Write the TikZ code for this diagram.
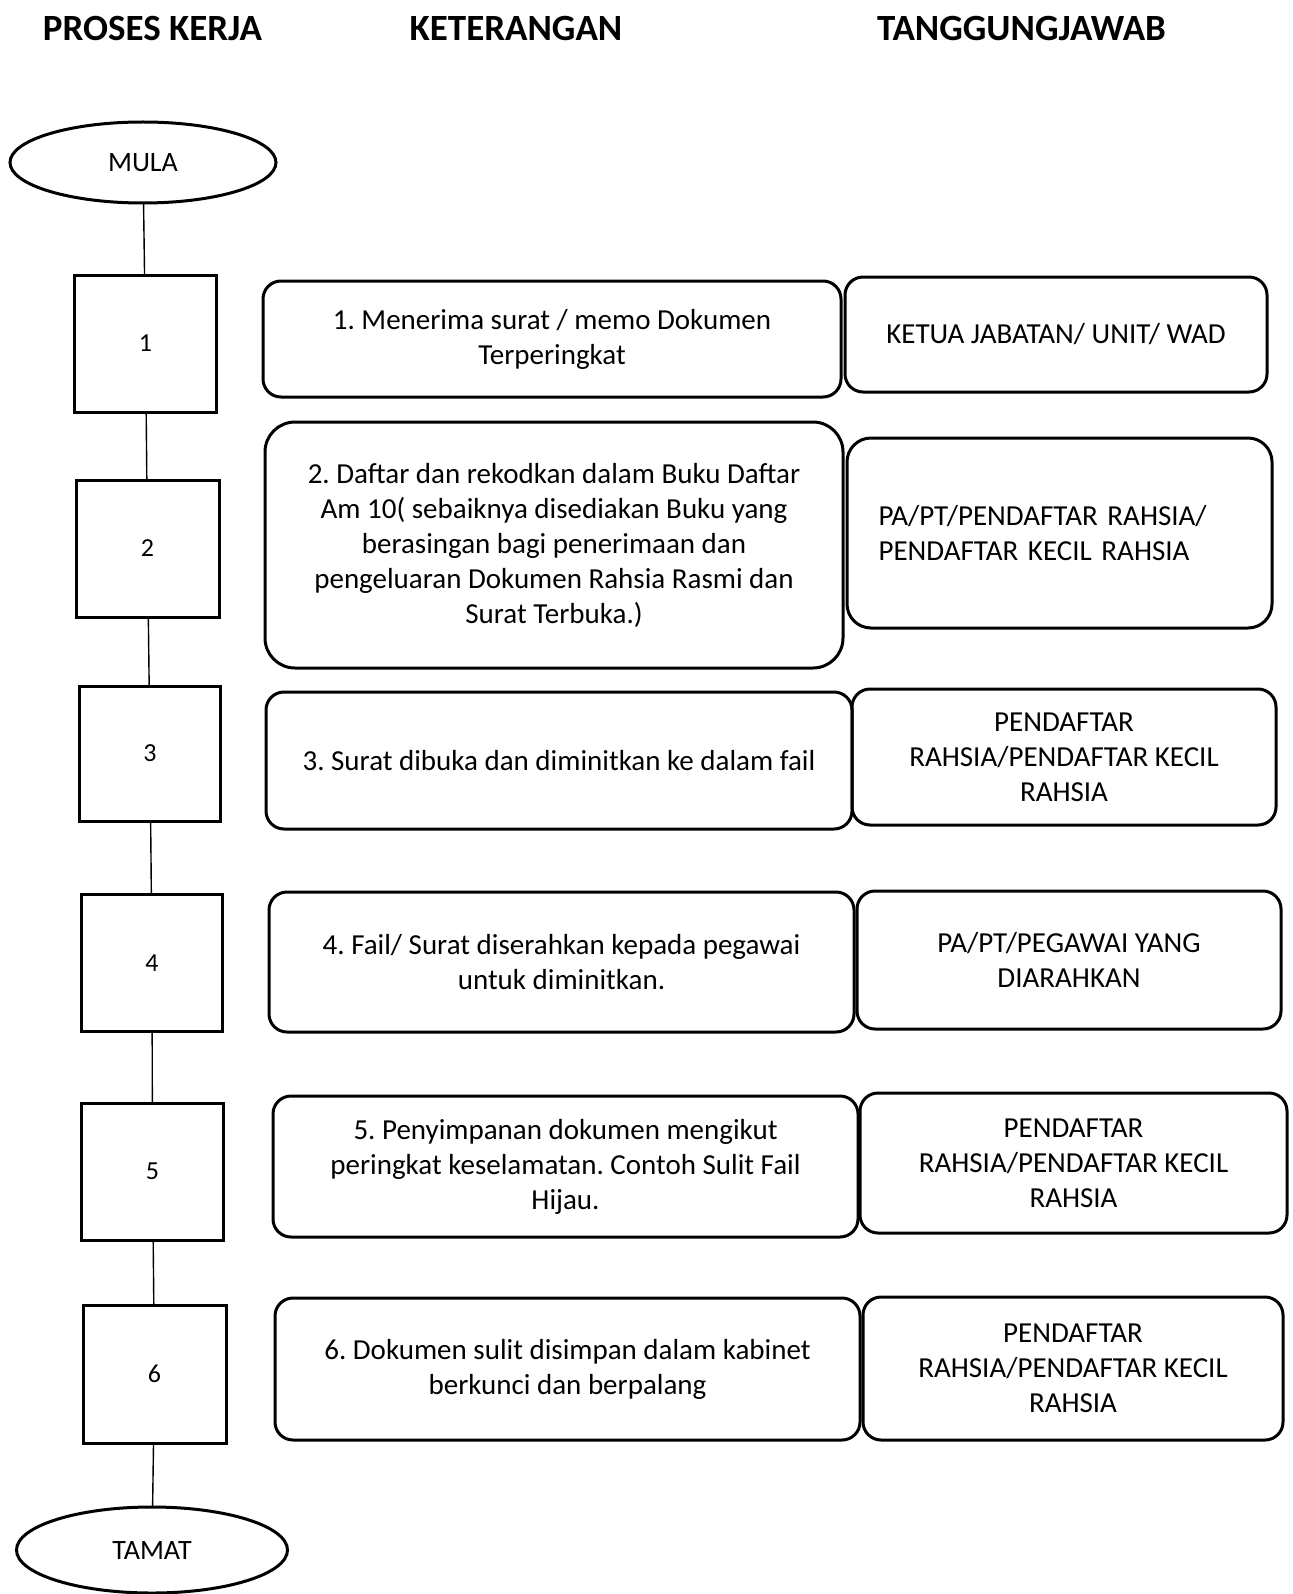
\documentclass[tikz,border=0pt]{standalone}
\usepackage{fontspec}
\setmainfont{Carlito}
\usetikzlibrary{shapes.geometric}
\frenchspacing
\begin{document}
\begin{tikzpicture}[x=0.5pt,y=-0.5pt,
  head/.style={font=\fontsize{18.5}{22}\selectfont\bfseries, anchor=base, inner sep=0pt},
  term/.style={ellipse, draw, line width=1.5pt, inner sep=0pt, outer sep=0pt, font=\fontsize{14}{17}\selectfont},
  numbox/.style={draw, line width=1.5pt, inner sep=0pt, outer sep=0pt, font=\fontsize{13}{16}\selectfont},
  descbox/.style={draw, rounded corners=9pt, line width=1.5pt, inner sep=0pt, outer sep=0pt, align=center, font=\fontsize{14.5}{17.5}\selectfont},
  conn/.style={line width=0.7pt}]
\useasboundingbox (0,0) rectangle (1292,1594);
\fill[white] (0,0) rectangle (1292,1594);
% headers
\node[head] (h1) at (152.5,40.5) {PROSES KERJA};
\node[head] (h2) at (516,40.5) {KETERANGAN};
\node[head] (h3) at (1021.5,40.5) {TANGGUNGJAWAB};
% terminals
\node[term, minimum width=133pt, minimum height=40.5pt] (mula) at (143,162.5) {MULA};
\node[term, minimum width=135.5pt, minimum height=43pt] (tamat) at (152,1550) {TAMAT};
% step boxes
\node[numbox, minimum width=71pt, minimum height=68.5pt] (b1) at (145.5,343.5) {1};
\node[numbox, minimum width=71.5pt, minimum height=68.5pt] (b2) at (147.5,548.5) {2};
\node[numbox, minimum width=70.5pt, minimum height=67.5pt] (b3) at (150,753.5) {3};
\node[numbox, minimum width=70.5pt, minimum height=68.5pt] (b4) at (152,963) {4};
\node[numbox, minimum width=71pt, minimum height=68.5pt] (b5) at (152.5,1171.5) {5};
\node[numbox, minimum width=71.5pt, minimum height=69pt] (b6) at (154.5,1374) {6};
% descriptions
\node[descbox, minimum width=289pt, minimum height=58pt] (m1) at (552,339)
  {1. Menerima surat / memo Dokumen\\Terperingkat};
\node[descbox, rounded corners=15pt, minimum width=289pt, minimum height=123pt] (m2) at (554,545)
  {2. Daftar dan rekodkan dalam Buku Daftar\\Am 10( sebaiknya disediakan Buku yang\\berasingan bagi penerimaan dan\\pengeluaran Dokumen Rahsia Rasmi dan\\Surat Terbuka.)};
\node[descbox, minimum width=293pt, minimum height=68.5pt] (m3) at (559,760.5)
  {3. Surat dibuka dan diminitkan ke dalam fail};
\node[descbox, minimum width=292.5pt, minimum height=70pt] (m4) at (561.5,962)
  {4. Fail/ Surat diserahkan kepada pegawai\\untuk diminitkan.};
\node[descbox, minimum width=292.5pt, minimum height=70.5pt] (m5) at (565.5,1166.5)
  {5. Penyimpanan dokumen mengikut\\peringkat keselamatan. Contoh Sulit Fail\\Hijau.};
\node[descbox, minimum width=292.5pt, minimum height=71pt] (m6) at (567.5,1369)
  {6. Dokumen sulit disimpan dalam kabinet\\berkunci dan berpalang};
% responsibilities
\node[descbox, minimum width=211pt, minimum height=57.5pt] (r1) at (1056,334.5)
  {KETUA JABATAN/ UNIT/ WAD};
\node[descbox, rounded corners=12pt, minimum width=212.5pt, minimum height=95pt, text width=181pt, align=left] (r2) at (1059.5,533)
  {PA/PT/PENDAFTAR RAHSIA/\\PENDAFTAR KECIL RAHSIA};
\node[descbox, minimum width=212pt, minimum height=68pt] (r3) at (1064,757)
  {PENDAFTAR\\RAHSIA/PENDAFTAR KECIL\\RAHSIA};
\node[descbox, minimum width=212pt, minimum height=69pt] (r4) at (1069,960)
  {PA/PT/PEGAWAI YANG\\DIARAHKAN};
\node[descbox, minimum width=213.5pt, minimum height=70pt] (r5) at (1073.5,1163)
  {PENDAFTAR\\RAHSIA/PENDAFTAR KECIL\\RAHSIA};
\node[descbox, minimum width=210pt, minimum height=71.5pt] (r6) at (1073,1368.5)
  {PENDAFTAR\\RAHSIA/PENDAFTAR KECIL\\RAHSIA};
% connectors
\draw[conn] (mula) -- (b1);
\draw[conn] (b1) -- (b2);
\draw[conn] (b2) -- (b3);
\draw[conn] (b3) -- (b4);
\draw[conn] (b4) -- (b5);
\draw[conn] (b5) -- (b6);
\draw[conn] (b6) -- (tamat);
\end{tikzpicture}
\end{document}
